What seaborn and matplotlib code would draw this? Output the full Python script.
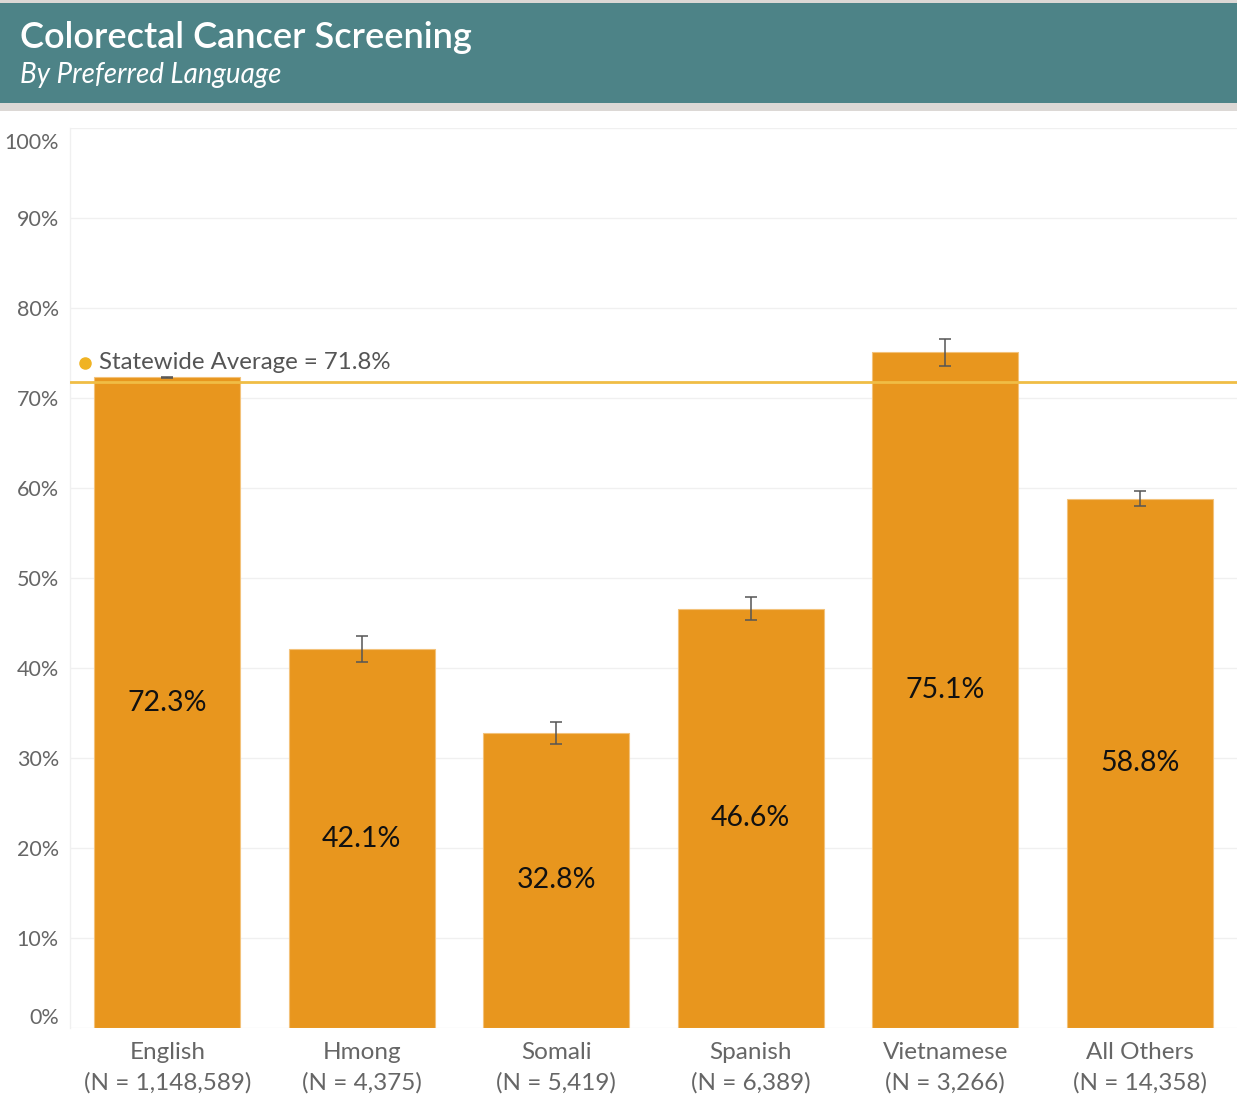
import numpy as np
import pandas as pd
import matplotlib
matplotlib.use("Agg")
import matplotlib.pyplot as plt
import matplotlib.transforms as mtransforms
from matplotlib.patches import Rectangle
import seaborn as sns

# data
languages = ["English", "Hmong", "Somali", "Spanish", "Vietnamese", "All Others"]
n_counts = ["1,148,589", "4,375", "5,419", "6,389", "3,266", "14,358"]
rates = [72.3, 42.1, 32.8, 46.6, 75.1, 58.8]
errors = [0.05, 1.45, 1.2, 1.25, 1.5, 0.85]
statewide_avg = 71.8
y_ticks = [0, 10, 20, 30, 40, 50, 60, 70, 80, 90, 100]

df = pd.DataFrame({"language": languages, "rate": rates})

sns.set_theme(style="white")
plt.rcParams['font.family'] = ['Lato', 'DejaVu Sans']

fig = plt.figure(figsize=(12.37, 11.15), dpi=100)
ax = fig.add_axes([70 / 1237, 87 / 1115, 1167 / 1237, 900 / 1115])

bar_color = "#e8961e"
sns.barplot(data=df, x="language", y="rate", color=bar_color, width=0.75,
            saturation=1, edgecolor="#f3c27a", linewidth=0.8, ax=ax, zorder=2)

ax.errorbar(np.arange(len(languages)), rates, yerr=errors, fmt="none",
            ecolor="#555555", elinewidth=1.1, capsize=4, capthick=1.1, zorder=4)

# labels in the middle of each bar
ax.bar_label(ax.containers[0], labels=[f"{v:.1f}%" for v in rates],
             label_type="center", fontsize=20.5, color="#111111")

# statewide average line
ax.axhline(statewide_avg, color="#f0bd45", lw=2, zorder=5)
trans = mtransforms.blended_transform_factory(ax.transAxes, ax.transData)
ax.plot([0.013], [statewide_avg + 2.1], marker="o", ms=8, color="#f0b323",
        transform=trans, clip_on=False, zorder=6)
ax.text(0.0245, statewide_avg + 2.1, f"Statewide Average = {statewide_avg}%",
        transform=trans, fontsize=17.3, color="#555555", va="center", ha="left", zorder=6)

ax.set_ylim(0, 100)
ax.set_xlim(-0.5, len(languages) - 0.5)
ax.set_yticks(y_ticks)
ax.set_yticklabels([f"{t}%" for t in y_ticks])
ax.set_xticks(np.arange(len(languages)))
ax.set_xticklabels([f"{l}\n(N = {n})" for l, n in zip(languages, n_counts)],
                   linespacing=1.5)
ax.tick_params(axis="y", length=0, pad=8, labelsize=15.5, labelcolor="#666666")
ax.tick_params(axis="x", length=0, pad=10, labelsize=17.5, labelcolor="#666666")
ylabels = ax.get_yticklabels()
ylabels[0].set_va("bottom")
ylabels[-1].set_va("top")
ylabels[-1].set_transform(ylabels[-1].get_transform() +
                          mtransforms.ScaledTranslation(0, -0.05, fig.dpi_scale_trans))

ax.set_xlabel("")
ax.set_ylabel("")
ax.yaxis.grid(True, color="#f0f0f0", lw=1)
ax.set_axisbelow(True)
for side in ["top", "right", "bottom"]:
    ax.spines[side].set_visible(False)
ax.spines["left"].set_color("#f0f0f0")
ax.spines["left"].set_linewidth(1)

# header banner
fig.add_artist(Rectangle((0, 1 - 111 / 1115), 1, 111 / 1115, transform=fig.transFigure,
                         facecolor="#dcd8d5", edgecolor="none"))
fig.add_artist(Rectangle((0, 1 - 103 / 1115), 1, 100 / 1115, transform=fig.transFigure,
                         facecolor="#4d8387", edgecolor="none"))
fig.text(20 / 1237, 1 - 37 / 1115, "Colorectal Cancer Screening", fontsize=26,
         color="white", va="center", ha="left", fontweight="semibold")
fig.text(20 / 1237, 1 - 75 / 1115, "By Preferred Language", fontsize=20,
         color="white", va="center", ha="left", style="italic")

fig.savefig("out.png", dpi=100)
